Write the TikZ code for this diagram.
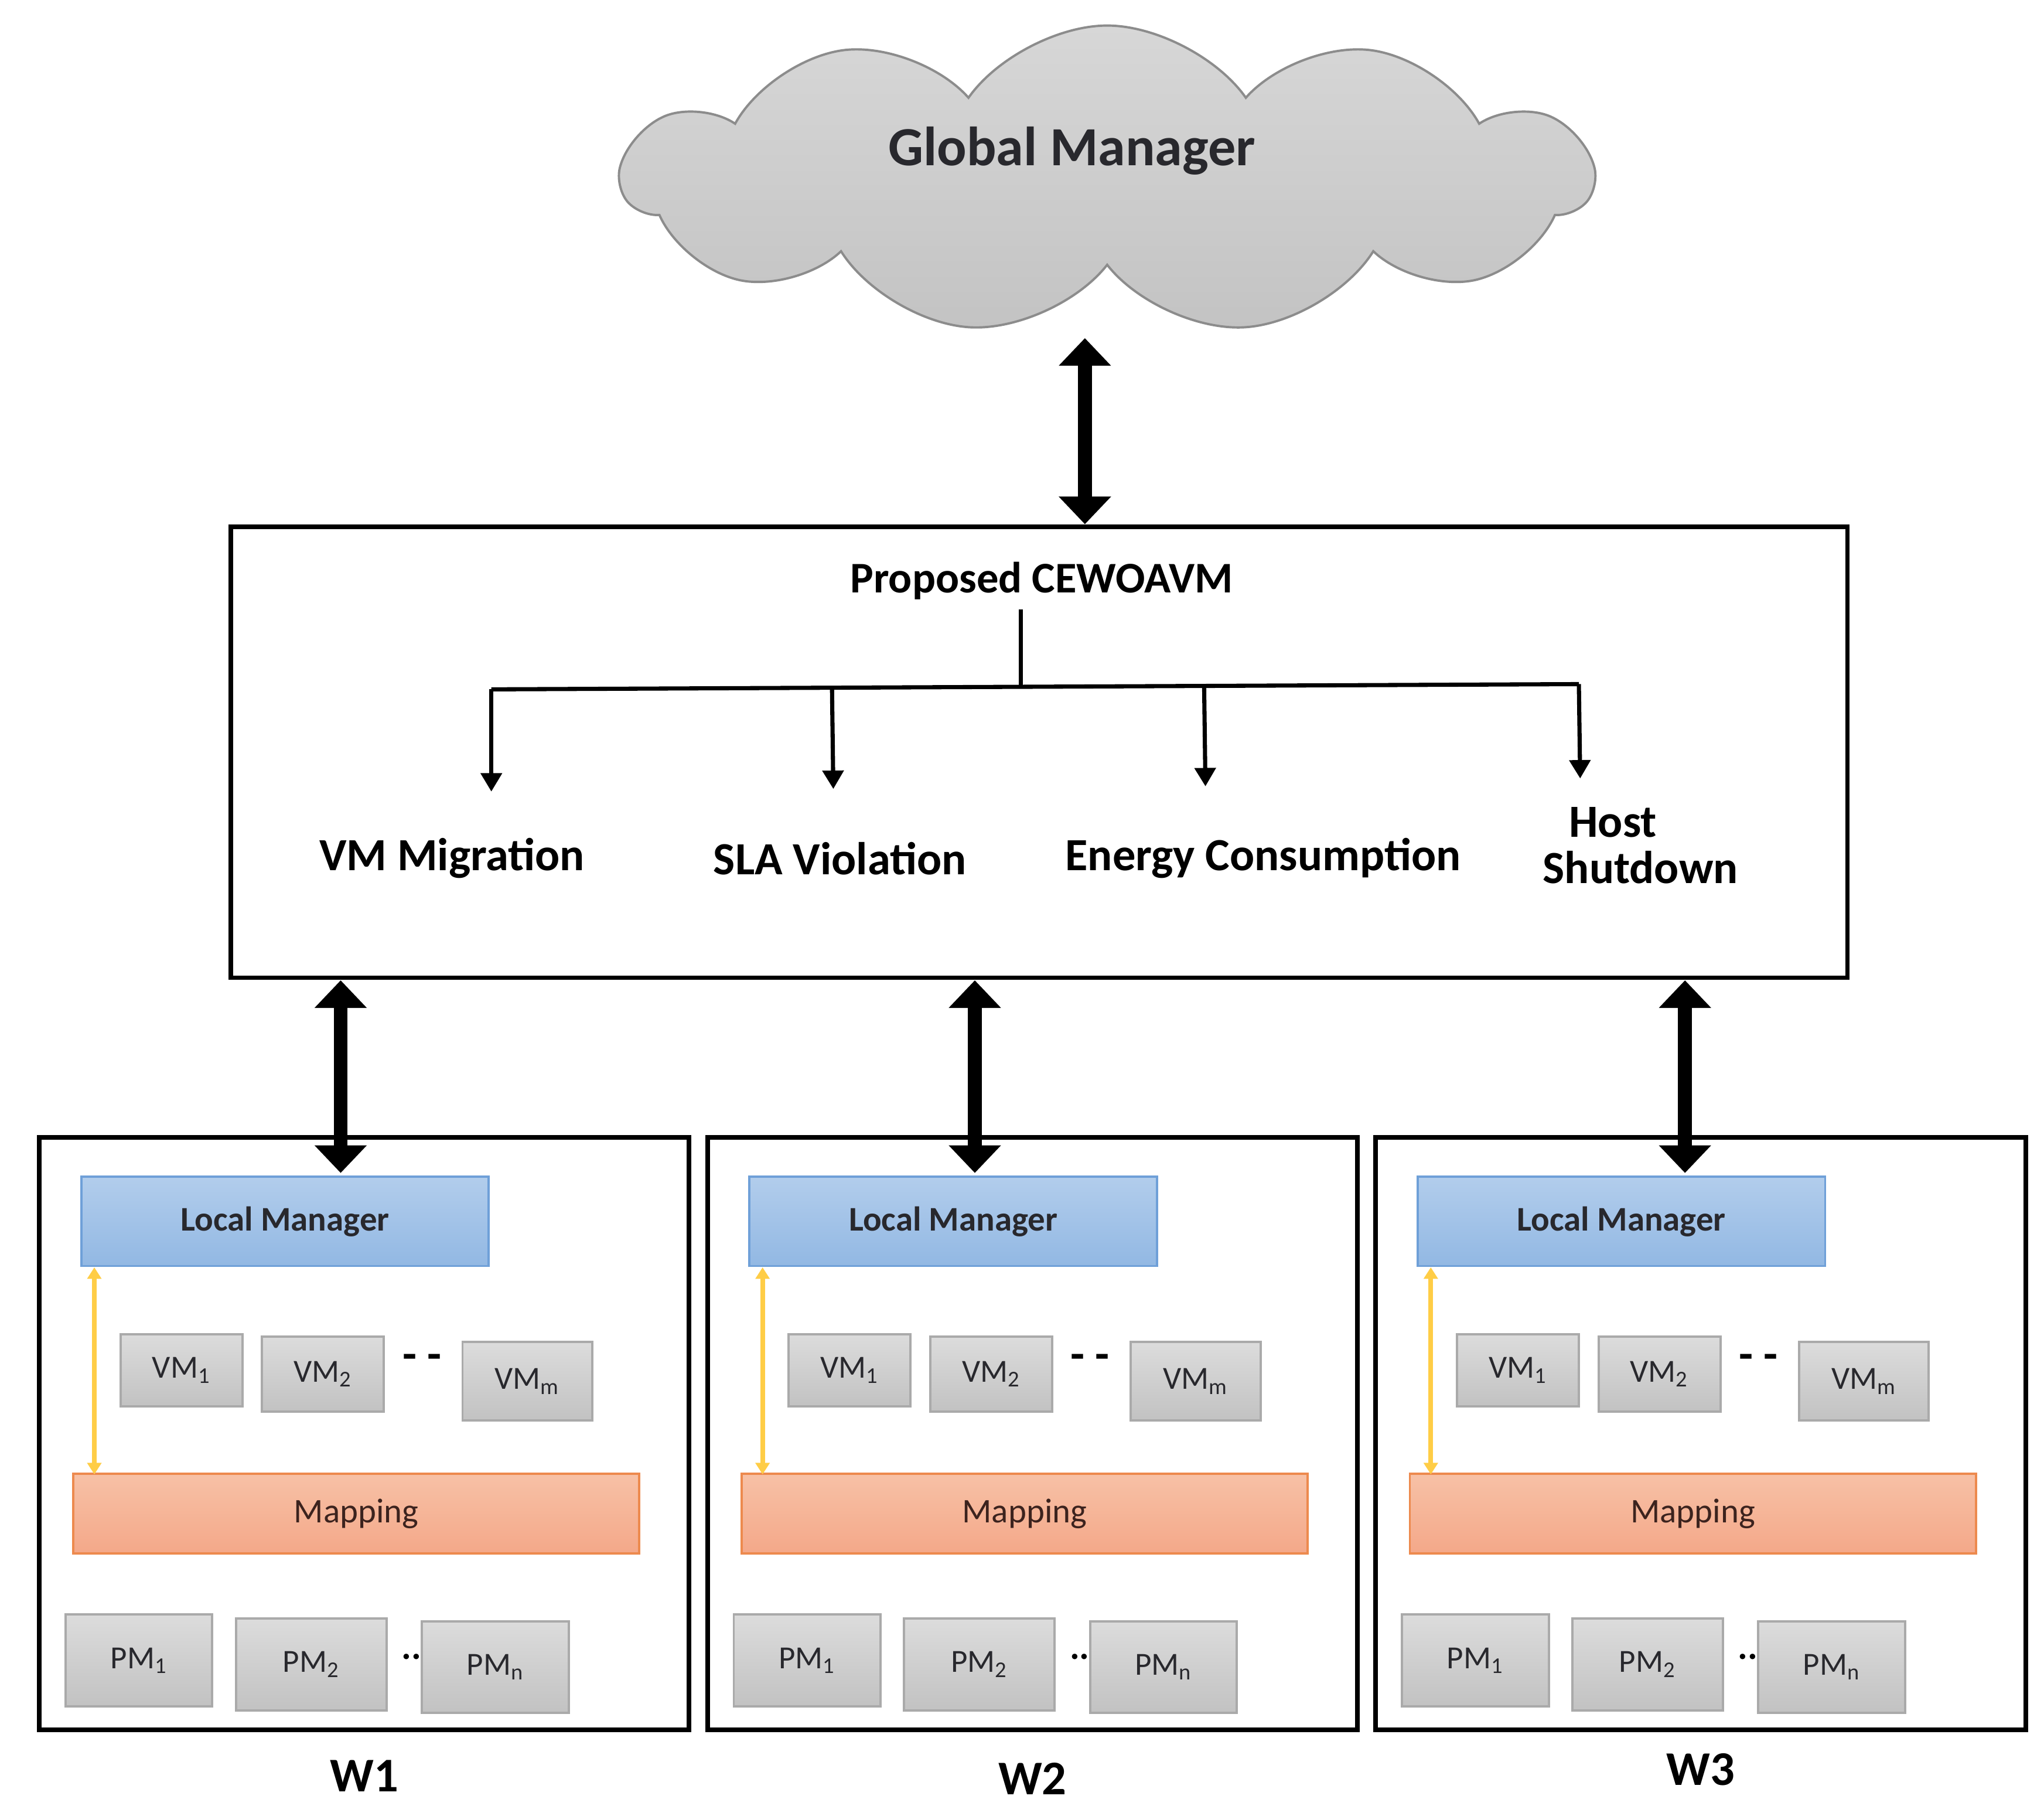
\documentclass[tikz,border=0pt]{standalone}
\usepackage{fontspec}
\setmainfont{Carlito}
\usetikzlibrary{arrows.meta,shapes.symbols}
\definecolor{lmb}{RGB}{111,160,216}
\definecolor{yel}{RGB}{255,205,70}
\definecolor{lmt}{RGB}{178,205,236}
\definecolor{lmbt}{RGB}{146,184,227}
\definecolor{mpd}{RGB}{237,138,78}
\definecolor{mpt}{RGB}{247,193,166}
\definecolor{mpb}{RGB}{244,168,137}
\definecolor{gbd}{RGB}{170,170,170}
\definecolor{gbt}{RGB}{220,220,220}
\definecolor{gbb}{RGB}{194,194,194}
\definecolor{cld}{RGB}{140,140,140}
\definecolor{clt}{RGB}{215,215,215}
\definecolor{clb}{RGB}{195,195,195}
\definecolor{dtx}{RGB}{40,40,45}
\definecolor{mtx}{RGB}{60,35,30}
\begin{document}
\begin{tikzpicture}[x=0.02cm,y=-0.02cm,
  big/.style={line width=6pt,{Triangle[width=22pt,length=12pt]}-{Triangle[width=22pt,length=12pt]}},
  tree/.style={line width=1.8pt,-{Triangle[width=9pt,length=8pt]}},
  lm/.style={draw=lmb,line width=1pt,top color=lmt,bottom color=lmbt,font=\fontsize{15}{15}\selectfont\bfseries,text=dtx},
  mp/.style={draw=mpd,line width=1pt,top color=mpt,bottom color=mpb,font=\fontsize{15}{15}\selectfont,text=mtx},
  gb/.style={draw=gbd,line width=1pt,top color=gbt,bottom color=gbb,font=\fontsize{14}{14}\selectfont,text=dtx},
  lbl/.style={font=\fontsize{20}{20}\selectfont\bfseries},
  wl/.style={font=\fontsize{21}{21}\selectfont\bfseries}]
\useasboundingbox (0,0) rectangle (1560,1378);
% cloud
\node[cloud,cloud puffs=11,cloud puff arc=110,aspect=3.1,draw=cld,line width=1pt,top color=clt,bottom color=clb,minimum width=740*0.02cm,minimum height=235*0.02cm,inner sep=0pt] (cloud) at (845,137) {};
\node[font=\fontsize{24}{24}\selectfont\bfseries,text=dtx] (gm) at (818,115) {Global Manager};
% main box
\node[draw,line width=2pt,minimum width=1234*0.02cm,minimum height=344*0.02cm,inner sep=0pt] (main) at (793,574) {};
\coordinate (ctop) at (828,258);
\coordinate (mtop) at (828,400);
\draw[big] (ctop) -- (mtop);
\node[font=\fontsize{19}{19}\selectfont\bfseries] (prop) at (795,443) {Proposed CEWOAVM};
\coordinate (t0) at (779,465);
\coordinate (t1) at (779,524);
\coordinate (h1) at (375,526);
\coordinate (h4) at (1205,522);
\draw[line width=1.8pt] (t0) -- (t1);
\draw[line width=1.8pt] (h1) -- (h4);
\coordinate (a1) at (375,604);
\coordinate (s2) at (635,526); \coordinate (a2) at (636,602);
\coordinate (s3) at (919,523); \coordinate (a3) at (920,600);
\coordinate (a4) at (1206,594);
\draw[tree] (h1) -- (a1);
\draw[tree] (s2) -- (a2);
\draw[tree] (s3) -- (a3);
\draw[tree] (h4) -- (a4);
\node[lbl] (l1) at (345,655) {VM Migration};
\node[lbl] (l2) at (641,655) {SLA Violation};
\node[lbl] (l3) at (964,655) {Energy Consumption};
\node[lbl,align=center] (l4) at (1252,645) {\hspace*{-1.2em}Host\\Shutdown};
% W boxes
\foreach \i/\x/\ax/\wy in {1/30/260/1355,2/540/744/1357,3/1050/1286/1350}{
  \node[draw,line width=2pt,minimum width=496*0.02cm,minimum height=452*0.02cm,inner sep=0pt] (w\i) at (\x+248,1094) {};
  \coordinate (wt\i) at (\ax,895);
  \coordinate (mb\i) at (\ax,748);
  \draw[big] (mb\i) -- (wt\i);
  \node[lm,minimum width=311*0.02cm,minimum height=68*0.02cm,inner sep=0pt] (lm\i) at (\x+187.5,932) {Local Manager};
  \node[mp,minimum width=432*0.02cm,minimum height=61*0.02cm,inner sep=0pt] (mp\i) at (\x+242,1155) {Mapping};
  \coordinate (ya\i) at (\x+42,967);
  \coordinate (yb\i) at (\x+42,1125);
  \draw[line width=2pt,draw=yel,{Triangle[width=6pt,length=5pt]}-{Triangle[width=6pt,length=5pt]}] (ya\i) -- (yb\i);
  \node[gb,minimum width=93*0.02cm,minimum height=55*0.02cm,inner sep=0pt] (vmA\i) at (\x+108.5,1045.5) {VM\textsubscript{1}};
  \node[gb,minimum width=93*0.02cm,minimum height=57*0.02cm,inner sep=0pt] (vmB\i) at (\x+216.5,1048.5) {VM\textsubscript{2}};
  \node[font=\fontsize{20}{20}\selectfont\bfseries] (vd\i) at (\x+292,1039) {- -};
  \node[gb,minimum width=99*0.02cm,minimum height=60*0.02cm,inner sep=0pt] (vmC\i) at (\x+372.5,1054) {VM\textsubscript{m}};
  \node[gb,minimum width=112*0.02cm,minimum height=70*0.02cm,inner sep=0pt] (pmA\i) at (\x+76,1267) {PM\textsubscript{1}};
  \node[gb,minimum width=115*0.02cm,minimum height=70*0.02cm,inner sep=0pt] (pmB\i) at (\x+207.5,1270) {PM\textsubscript{2}};
  \node[font=\fontsize{16}{16}\selectfont\bfseries] (pd\i) at (\x+284,1264) {..};
  \node[gb,minimum width=112*0.02cm,minimum height=70*0.02cm,inner sep=0pt] (pmC\i) at (\x+348,1272) {PM\textsubscript{n}};
  \node[wl] (wl\i) at (\x+248,\wy) {W\i};
}
\end{tikzpicture}
\end{document}
